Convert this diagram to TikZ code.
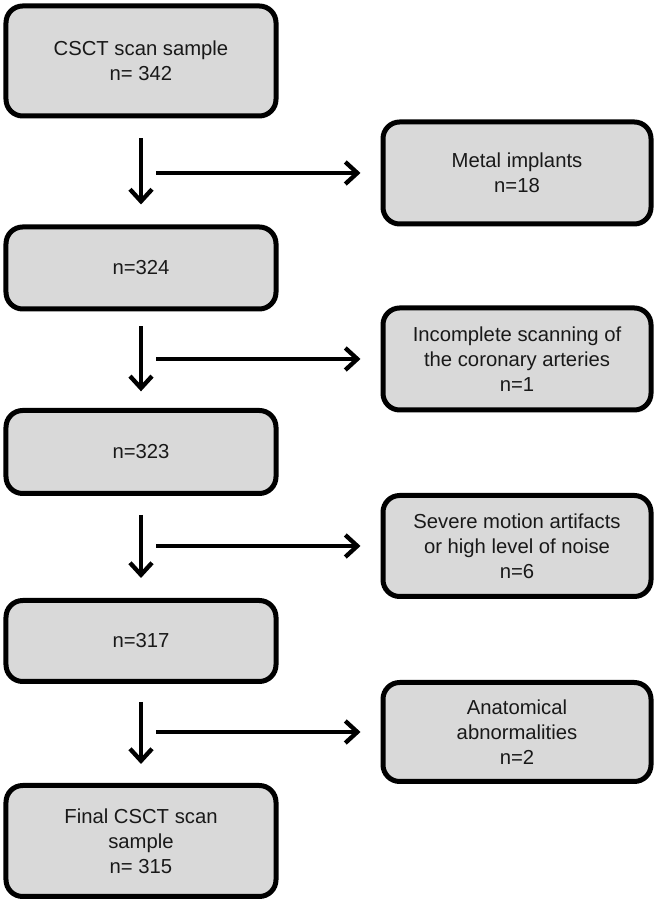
\documentclass[tikz,border=0pt]{standalone}
\usepackage{fontspec}
\setmainfont{Liberation Sans}
\usetikzlibrary{calc,arrows.meta}
\tikzset{
	box/.style={draw=black, fill=black!15, line width=1.5mm, rounded corners=5mm, minimum width=8.1cm, align=center, text=black!90, font=\fontsize{17.3}{21.5}\selectfont},
	sidebox/.style={box, minimum width=8.04cm},
	arr/.style={line width=1.3mm, -{Straight Barb[length=3.6mm,width=6.6mm]}},
}

\begin{document}
\begin{tikzpicture}
		%%%%% START %%%%%
		\useasboundingbox (0, 0) rectangle (19.71, 27.42);
		
		% main column
		\node[box, minimum height=3.3cm] (b1) at (4.23, 25.59) {CSCT scan sample\\n= 342};
		\node[box, minimum height=2.46cm] (b2) at (4.23, 19.38) {n=324};
		\node[box, minimum height=2.49cm] (b3) at (4.23, 13.86) {n=323};
		\node[box, minimum height=2.43cm] (b4) at (4.23, 8.19) {n=317};
		\node[box, minimum height=3.33cm] (b5) at (4.23, 2.19) {Final CSCT scan\\sample\\n= 315};
		
		% excluded
		\node[sidebox, minimum height=3.06cm] (r1) at (15.51, 22.23) {Metal implants\\n=18};
		\node[sidebox, minimum height=3.06cm] (r2) at (15.51, 16.65) {Incomplete scanning of\\the coronary arteries\\n=1};
		\node[sidebox, minimum height=3.03cm] (r3) at (15.51, 11.04) {Severe motion artifacts\\or high level of noise\\n=6};
		\node[sidebox, minimum height=2.97cm] (r4) at (15.51, 5.46) {Anatomical\\abnormalities\\n=2};
		
		\draw[arr, shorten <=0.6cm, shorten >=0.6cm] (b1) -- (b2);
		\draw[arr, shorten <=0.45cm, shorten >=0.5cm] (b2) -- (b3);
		\draw[arr, shorten <=0.57cm, shorten >=0.6cm] (b3) -- (b4);
		\draw[arr, shorten <=0.54cm, shorten >=0.57cm] (b4) -- (b5);
		
		\coordinate (s1) at ($(b1.south |- r1.west)+(0.45, 0)$);
		\coordinate (s2) at ($(b2.south |- r2.west)+(0.45, 0)$);
		\coordinate (s3) at ($(b3.south |- r3.west)+(0.45, 0)$);
		\coordinate (s4) at ($(b4.south |- r4.west)+(0.45, 0)$);
		
		\draw[arr, shorten >=0.6cm] (s1) -- (s1 -| r1.west);
		\draw[arr, shorten >=0.6cm] (s2) -- (s2 -| r2.west);
		\draw[arr, shorten >=0.6cm] (s3) -- (s3 -| r3.west);
		\draw[arr, shorten >=0.6cm] (s4) -- (s4 -| r4.west);
		
		%%%%% END %%%%%
	\end{tikzpicture}
\end{document}
